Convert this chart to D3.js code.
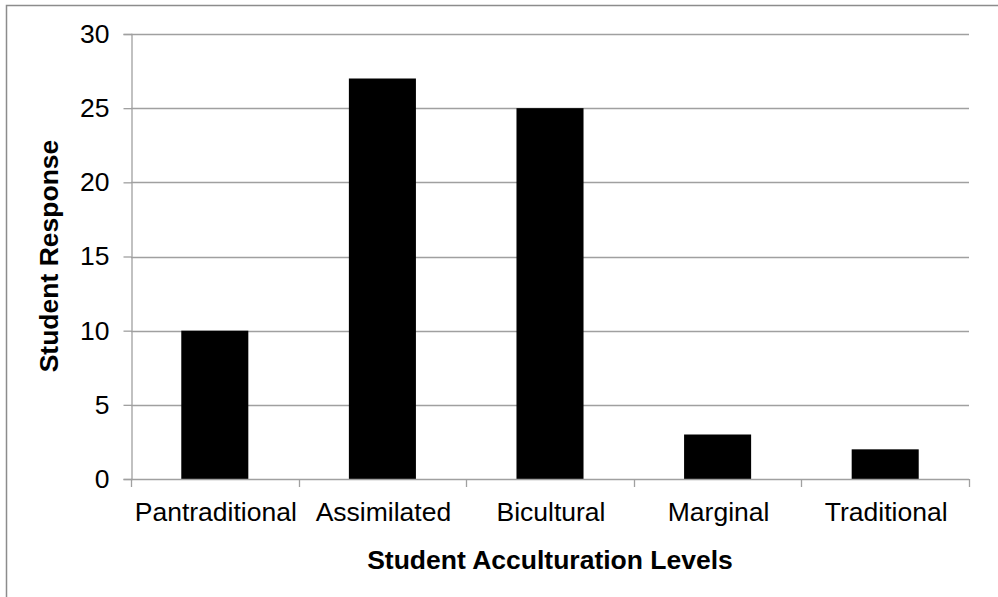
<!DOCTYPE html>
<html>
<head>
<meta charset="utf-8">
<script src="https://cdn.jsdelivr.net/npm/d3@7"></script>
<style>
  body { margin: 0; background: #fff; }
  svg { display: block; font-family: "Liberation Sans", Arial, sans-serif; }
</style>
</head>
<body>
<div id="chart"></div>
<script>
// acculturation levels and counts
const categories = ["Pantraditional", "Assimilated", "Bicultural", "Marginal", "Traditional"];
const responses = [10, 27, 25, 3, 2];
const yTicks = [0, 5, 10, 15, 20, 25, 30];

const width = 998, height = 597;
const margin = {top: 34, right: 29, bottom: 118, left: 131};
const fontSize = 26.5;

const svg = d3.select("#chart").append("svg")
    .attr("width", width)
    .attr("height", height);

// outer frame (runs off the right/bottom edge like the original)
svg.append("rect")
    .attr("x", 6.5).attr("y", 5.5)
    .attr("width", width + 10).attr("height", height + 10)
    .attr("fill", "none")
    .attr("stroke", "#8c8c8c")
    .attr("stroke-width", 1.5);

const x = d3.scaleBand()
    .domain(categories)
    .range([margin.left, width - margin.right])
    .paddingInner(0.6)
    .paddingOuter(0.3);

const y = d3.scaleLinear()
    .domain([0, 30])
    .range([height - margin.bottom, margin.top]);

const gridColor = "#a0a0a0";

// horizontal gridlines
svg.append("g")
    .selectAll("line")
    .data(yTicks.filter(d => d > 0))
    .join("line")
    .attr("x1", margin.left)
    .attr("x2", width - margin.right)
    .attr("y1", d => Math.round(y(d)) + 0.5)
    .attr("y2", d => Math.round(y(d)) + 0.5)
    .attr("stroke", gridColor)
    .attr("stroke-width", 1.3);

// bars
svg.append("g")
    .selectAll("rect")
    .data(responses)
    .join("rect")
    .attr("x", (d, i) => x(categories[i]))
    .attr("width", x.bandwidth())
    .attr("y", d => y(d))
    .attr("height", d => y(0) - y(d))
    .attr("fill", "#000");

// y axis
const yAxis = svg.append("g")
    .attr("transform", `translate(${margin.left + 0.5},0)`)
    .call(d3.axisLeft(y).tickValues(yTicks).tickSize(8).tickPadding(14));
yAxis.select(".domain").attr("stroke", gridColor).attr("stroke-width", 1.3);
yAxis.selectAll(".tick line").attr("stroke", gridColor).attr("stroke-width", 1.3);
yAxis.selectAll(".tick text")
    .attr("font-size", fontSize)
    .attr("font-family", "Liberation Sans, Arial, sans-serif")
    .attr("fill", "#000");

// x axis with ticks at category boundaries
const bounds = d3.range(categories.length + 1).map(i => margin.left + i * (width - margin.right - margin.left) / categories.length);
const xg = svg.append("g");
xg.append("line")
    .attr("x1", margin.left).attr("x2", width - margin.right)
    .attr("y1", y(0) + 0.5).attr("y2", y(0) + 0.5)
    .attr("stroke", gridColor).attr("stroke-width", 1.3);
xg.selectAll(".bt")
    .data(bounds)
    .join("line")
    .attr("class", "bt")
    .attr("x1", d => Math.round(d) + 0.5).attr("x2", d => Math.round(d) + 0.5)
    .attr("y1", y(0)).attr("y2", y(0) + 8)
    .attr("stroke", gridColor).attr("stroke-width", 1.3);
xg.selectAll("text")
    .data(categories)
    .join("text")
    .attr("x", d => x(d) + x.bandwidth() / 2 + 1)
    .attr("y", 521)
    .attr("text-anchor", "middle")
    .attr("font-size", fontSize)
    .attr("fill", "#000")
    .text(d => d);

// axis titles
svg.append("text")
    .attr("x", (margin.left + width - margin.right) / 2)
    .attr("y", 569)
    .attr("text-anchor", "middle")
    .attr("font-size", fontSize)
    .attr("font-weight", "bold")
    .text("Student Acculturation Levels");

svg.append("text")
    .attr("transform", "translate(58,256) rotate(-90)")
    .attr("text-anchor", "middle")
    .attr("font-size", fontSize)
    .attr("font-weight", "bold")
    .text("Student Response");
</script>
</body>
</html>
